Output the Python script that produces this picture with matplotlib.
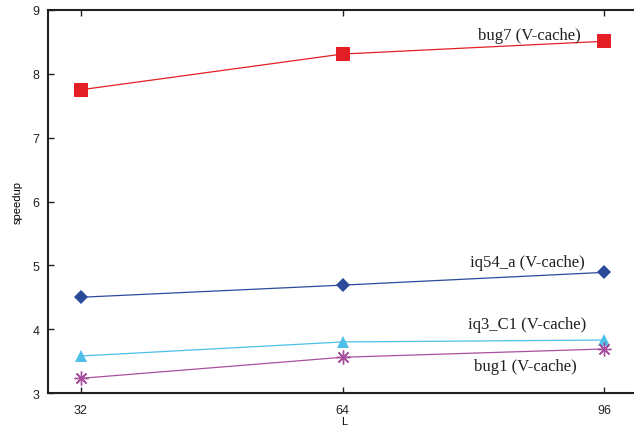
import matplotlib
matplotlib.use('Agg')
import matplotlib.pyplot as plt

L = [32, 64, 96]
bug7 = [7.75, 8.31, 8.51]
iq54_a = [4.50, 4.69, 4.89]
iq3_C1 = [3.58, 3.80, 3.83]
bug1 = [3.23, 3.56, 3.69]

labels = ['bug7 (V-cache)', 'iq54_a (V-cache)', 'iq3_C1 (V-cache)', 'bug1 (V-cache)']
label_pos = [(86.8, 8.61), (86.6, 5.05), (86.6, 4.08), (86.3, 3.42)]

series = [bug7, iq54_a, iq3_C1, bug1]
colors = ['#e31e24', '#2b4a9b', '#4dbfe8', '#a8509f']
markers = ['s', 'D', '^', (8, 2, 0)]
msizes = [10, 7, 9, 10]

fig = plt.figure(figsize=(6.34, 4.31), dpi=100)
ax = fig.add_axes([0.0757, 0.0858, 0.9330, 0.8887])

for ys, c, m, ms in zip(series, colors, markers, msizes):
    ax.plot(L, ys, color=c, marker=m, markersize=ms, lw=0.9,
            markeredgewidth=1.0 if m == (8, 2, 0) else 0)

for t, (x, y) in zip(labels, label_pos):
    ax.text(x, y, t, family='Liberation Serif', fontsize=12, color='#231f20',
            ha='center', va='center')

ax.set_xlim(28, 100.3)
ax.set_ylim(3, 9)
ax.set_xticks(L)
ax.set_yticks(range(3, 10))
ax.tick_params(direction='in', length=4, width=1, labelsize=9,
               colors='#231f20', top=True, right=True)
ax.tick_params(axis='y', which='both', right=True)
ax.tick_params(axis='x', pad=8)
ax.tick_params(axis='y', pad=6)
for lab in ax.get_xticklabels() + ax.get_yticklabels():
    lab.set_family('Liberation Sans')
for s in ax.spines.values():
    s.set_color('#231f20')
    s.set_linewidth(1.5)
ax.spines['right'].set_visible(False)
ax.set_xlabel('L', family='Liberation Sans', fontsize=8, labelpad=0)
ax.set_ylabel('speedup', family='Liberation Sans', fontsize=8, labelpad=7)

plt.savefig('out.png', dpi=100)
